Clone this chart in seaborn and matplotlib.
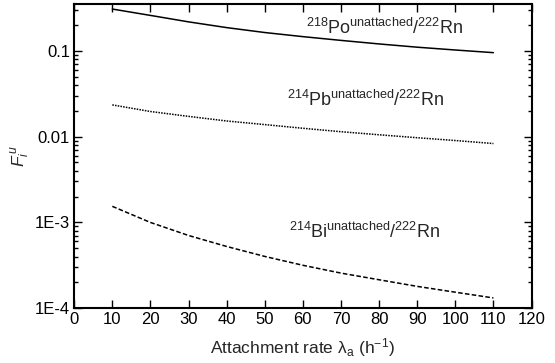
import numpy as np
import pandas as pd
import matplotlib
matplotlib.use("Agg")
import matplotlib.pyplot as plt
import seaborn as sns
from matplotlib.ticker import FixedLocator, FixedFormatter, LogLocator, NullFormatter

sns.set_theme(style="ticks")
plt.rcParams['font.family'] = ['Liberation Sans', 'DejaVu Sans']
plt.rcParams['mathtext.fontset'] = 'custom'
plt.rcParams['mathtext.rm'] = 'Liberation Sans'
plt.rcParams['mathtext.it'] = 'Liberation Sans:italic'
plt.rcParams['mathtext.bf'] = 'Liberation Sans:bold'

# Data
attachment_rate = [10, 20, 30, 40, 50, 60, 70, 80, 90, 100, 110]
po218 = [0.306, 0.258, 0.217, 0.186, 0.163, 0.146, 0.132, 0.120, 0.110, 0.102, 0.095]
pb214 = [0.0234, 0.0196, 0.0172, 0.0152, 0.0138, 0.0125, 0.0114, 0.0105, 0.0097, 0.0090, 0.0083]
bi214 = [1.54e-3, 1.0e-3, 7.05e-4, 5.25e-4, 4.02e-4, 3.17e-4, 2.57e-4, 2.15e-4, 1.80e-4, 1.54e-4, 1.32e-4]
series_names = ["Po218", "Pb214", "Bi214"]
x_ticks = [0, 10, 20, 30, 40, 50, 60, 70, 80, 90, 100, 110, 120]
y_ticks = [1e-4, 1e-3, 1e-2, 1e-1]
y_tick_labels = ["1E-4", "1E-3", "0.01", "0.1"]

df = pd.DataFrame({
    "x": attachment_rate * 3,
    "y": po218 + pb214 + bi214,
    "series": [series_names[0]] * len(po218) + [series_names[1]] * len(pb214) + [series_names[2]] * len(bi214),
})

fig = plt.figure(figsize=(5.55, 3.63), dpi=100)
ax = fig.add_axes([0.1337, 0.1507, 0.9577 - 0.1337, 0.988 - 0.1507])

sns.lineplot(data=df, x="x", y="y", style="series", color="black",
             dashes={"Po218": "", "Pb214": (1, 0.8), "Bi214": (3, 1.5)},
             linewidth=1.1, legend=False, ax=ax)

ax.set_yscale("log")
ax.set_xlim(0, 120)
ax.set_ylim(1e-4, 0.347)
ax.xaxis.set_major_locator(FixedLocator(x_ticks))
ax.set_xticklabels([str(t) for t in x_ticks])
ax.yaxis.set_major_locator(FixedLocator(y_ticks))
ax.yaxis.set_major_formatter(FixedFormatter(y_tick_labels))
ax.yaxis.set_minor_locator(LogLocator(base=10, subs=np.arange(2, 10)))
ax.yaxis.set_minor_formatter(NullFormatter())

ax.tick_params(which="both", direction="in", top=True, right=True, colors="black",
               labelsize=12, width=1.0)
ax.tick_params(which="major", length=6, pad=3)
ax.tick_params(which="minor", length=3)
for s in ax.spines.values():
    s.set_linewidth(1.5)
    s.set_color("black")

ax.set_xlabel(r"Attachment rate λ$_{\mathrm{a}}$ (h$^{\mathrm{-1}}$)", fontsize=12.5, labelpad=6)
ax.set_ylabel(r"$F_i^{\,u}$", fontsize=12.5, labelpad=2)

ax.text(81.4, 0.185, r"$^{218}$Po$^{\mathrm{unattached}}$/$^{222}$Rn", fontsize=13,
        ha="center", va="center")
ax.text(76.6, 0.0268, r"$^{214}$Pb$^{\mathrm{unattached}}$/$^{222}$Rn", fontsize=13,
        ha="center", va="center")
ax.text(76.2, 7.85e-4, r"$^{214}$Bi$^{\mathrm{unattached}}$/$^{222}$Rn", fontsize=13,
        ha="center", va="center")

fig.savefig("out.png", dpi=100)
